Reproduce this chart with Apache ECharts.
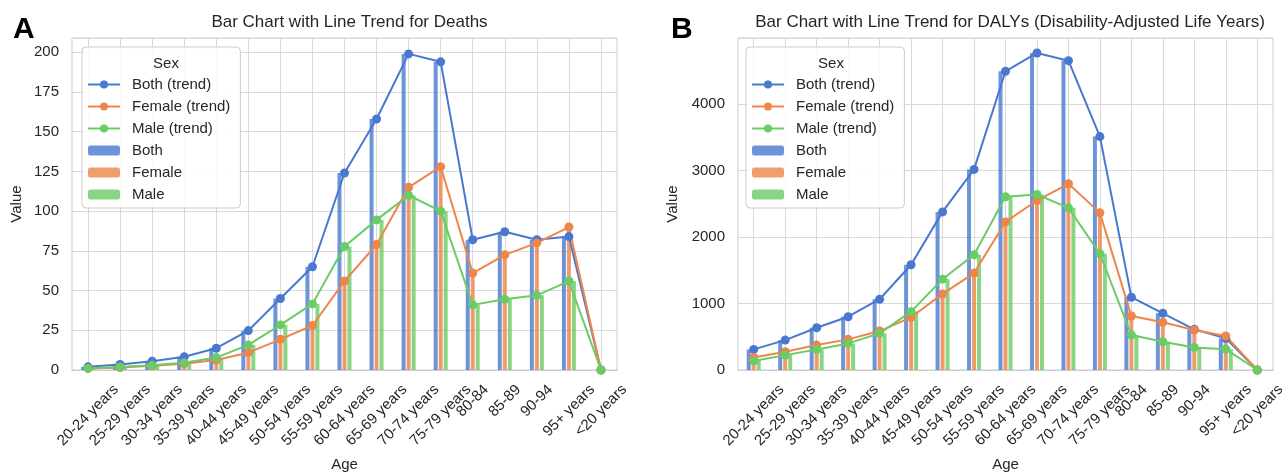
<!DOCTYPE html>
<html>
<head>
<meta charset="utf-8">
<script src="https://cdn.jsdelivr.net/npm/echarts@6/dist/echarts.min.js"></script>
<style>
html,body{margin:0;padding:0;background:#fff;}
#c{width:1282px;height:472px;}
</style>
</head>
<body>
<div id="c"></div>
<script>
const categories = ['20-24 years','25-29 years','30-34 years','35-39 years','40-44 years','45-49 years','50-54 years','55-59 years','60-64 years','65-69 years','70-74 years','75-79 years','80-84','85-89','90-94','95+ years','<20 years'];

const deathsBoth   = [2, 3.5, 5.5, 8.3, 13.7, 24.8, 45, 65, 124, 158, 199, 194, 82, 87, 82, 84, 0];
const deathsFemale = [1, 1.6, 2.6, 4, 6.3, 10.9, 19.3, 28, 56, 79, 115, 128, 61, 72.5, 80, 90, 0];
const deathsMale   = [1, 1.9, 3, 4.5, 7.8, 15.8, 28.4, 41.6, 77.7, 94.5, 110, 100, 41, 44.5, 47, 56, 0];

const dalysBoth   = [310, 450, 636, 802, 1065, 1583, 2379, 3018, 4494, 4770, 4654, 3512, 1095, 853, 612, 476, 0];
const dalysFemale = [189, 274, 375, 461, 586, 793, 1145, 1458, 2228, 2550, 2802, 2364, 813, 717, 601, 511, 0];
const dalysMale   = [137, 224, 310, 400, 551, 878, 1367, 1734, 2606, 2640, 2440, 1749, 526, 425, 340, 314, 0];

const sexes = ['Both', 'Female', 'Male'];
const colors = {Both: '#4878d0', Female: '#ee854a', Male: '#6acc64'};
const barColors = {Both: 'rgba(72,120,208,0.8)', Female: 'rgba(238,133,74,0.8)', Male: 'rgba(106,204,100,0.8)'};

const FONT = '"Liberation Sans", Arial, Helvetica, sans-serif';
const TXT = '#262626';
const GRIDC = '#d9d9d9';
const tickFs = 15;

// label layout emulating centred 45-degree labels
const ctx = document.createElement('canvas').getContext('2d');
ctx.font = tickFs + 'px "Liberation Sans"';
const widths = categories.map(c => ctx.measureText(c).width);
const wMin = Math.min.apply(null, widths);
const pad = 12, hTxt = tickFs;
const baseMargin = pad + 0.3536 * (wMin + hTxt);
const rich = {};
categories.forEach((c, i) => {
  const P = (widths[i] - wMin) / 2;
  rich['p' + i] = {padding: [P, P, 0, 0], fontSize: tickFs, fontFamily: FONT, color: TXT};
});

const grids = [
  {left: 72, top: 38, width: 545, bottom: 102, show: true, borderColor: '#cccccc', borderWidth: 1, outerBoundsMode: 'none', containLabel: false},
  {left: 738, top: 38, width: 535, bottom: 102, show: true, borderColor: '#cccccc', borderWidth: 1, outerBoundsMode: 'none', containLabel: false}
];

function xAxis(gi) {
  return {
    type: 'category', gridIndex: gi, data: categories,
    name: 'Age', nameLocation: 'middle', nameGap: 87,
    nameTextStyle: {fontSize: 15, color: TXT, fontFamily: FONT},
    axisLine: {show: true, lineStyle: {color: '#cccccc'}},
    axisTick: {show: false},
    splitLine: {show: false},
    axisLabel: {
      interval: 0, rotate: 45, align: 'center', verticalAlign: 'middle',
      margin: baseMargin, rich: rich,
      formatter: (v, i) => '{p' + i + '|' + v + '}',
      fontSize: tickFs, fontFamily: FONT, color: TXT
    }
  };
}
// helper axis: vertical grid lines through the category centres
function gridXAxis(gi) {
  const half = [];
  for (let i = 0; i <= categories.length * 2; i++) half.push(String(i));
  return {
    type: 'category', gridIndex: gi, data: half, boundaryGap: false, position: 'bottom',
    axisLine: {show: false}, axisTick: {show: false}, axisLabel: {show: false},
    splitLine: {show: true, interval: (idx) => idx % 2 === 1, lineStyle: {color: GRIDC, width: 1}},
    z: 0
  };
}
function yAxis(gi, max, interval, nameGap) {
  return {
    type: 'value', gridIndex: gi, min: 0, max: max, interval: interval,
    name: 'Value', nameLocation: 'middle', nameGap: nameGap,
    nameTextStyle: {fontSize: 15, color: TXT, fontFamily: FONT},
    axisLine: {show: false}, axisTick: {show: false},
    splitLine: {show: true, lineStyle: {color: GRIDC, width: 1}},
    axisLabel: {showMaxLabel: false, fontSize: tickFs, fontFamily: FONT, color: TXT, margin: 13,
      formatter: v => String(v)}
  };
}

const dataSets = [
  {Both: deathsBoth, Female: deathsFemale, Male: deathsMale},
  {Both: dalysBoth, Female: dalysFemale, Male: dalysMale}
];

const series = [];
dataSets.forEach((ds, gi) => {
  sexes.forEach(s => {
    series.push({
      name: s, type: 'bar', xAxisIndex: gi, yAxisIndex: gi, data: ds[s],
      barWidth: 4, barGap: '25%',
      itemStyle: {color: barColors[s]}, z: 2
    });
  });
  sexes.forEach(s => {
    series.push({
      name: s + ' (trend)', type: 'line', xAxisIndex: gi, yAxisIndex: gi, data: ds[s],
      symbol: 'circle', symbolSize: 9, showSymbol: true,
      lineStyle: {color: colors[s], width: 2}, itemStyle: {color: colors[s]},
      z: 5
    });
  });
});

const legendNames = ['Both (trend)', 'Female (trend)', 'Male (trend)', 'Both', 'Female', 'Male'];
function legend(left) {
  return {
    orient: 'vertical', left: left, top: 47, data: legendNames,
    padding: [30, 10, 6, 5], itemGap: 7, itemWidth: 32, itemHeight: 10,
    backgroundColor: 'rgba(255,255,255,0.85)', borderColor: '#cccccc', borderWidth: 1, borderRadius: 4,
    textStyle: {fontSize: 15, fontFamily: FONT, color: TXT, padding: [0, 0, 0, 7]},
    selectedMode: false
  };
}

const option = {
  animation: false,
  backgroundColor: '#ffffff',
  title: [
    {text: 'Bar Chart with Line Trend for Deaths', left: 344.5, top: 9, textAlign: 'center',
     textStyle: {fontSize: 17, fontWeight: 'normal', color: TXT, fontFamily: FONT}},
    {text: 'Bar Chart with Line Trend for DALYs (Disability-Adjusted Life Years)', left: 1005, top: 9, textAlign: 'center',
     textStyle: {fontSize: 17, fontWeight: 'normal', color: TXT, fontFamily: FONT}},
    {text: 'Sex', left: 161, top: 51, textAlign: 'center', textStyle: {fontSize: 15, fontWeight: 'normal', color: TXT, fontFamily: FONT}},
    {text: 'Sex', left: 826, top: 51, textAlign: 'center', textStyle: {fontSize: 15, fontWeight: 'normal', color: TXT, fontFamily: FONT}},
    {text: 'A', left: 8, top: 10, textStyle: {fontSize: 30, fontWeight: 'bold', color: '#000', fontFamily: FONT}},
    {text: 'B', left: 666, top: 10, textStyle: {fontSize: 30, fontWeight: 'bold', color: '#000', fontFamily: FONT}}
  ],
  legend: [legend(82), legend(746)],
  grid: grids,
  xAxis: [xAxis(0), xAxis(1), gridXAxis(0), gridXAxis(1)],
  yAxis: [yAxis(0, 209, 25, 48), yAxis(1, 4995, 1000, 58)],
  series: series
};

const chart = echarts.init(document.getElementById('c'), null, {renderer: 'canvas'});
chart.setOption(option);
</script>
</body>
</html>
